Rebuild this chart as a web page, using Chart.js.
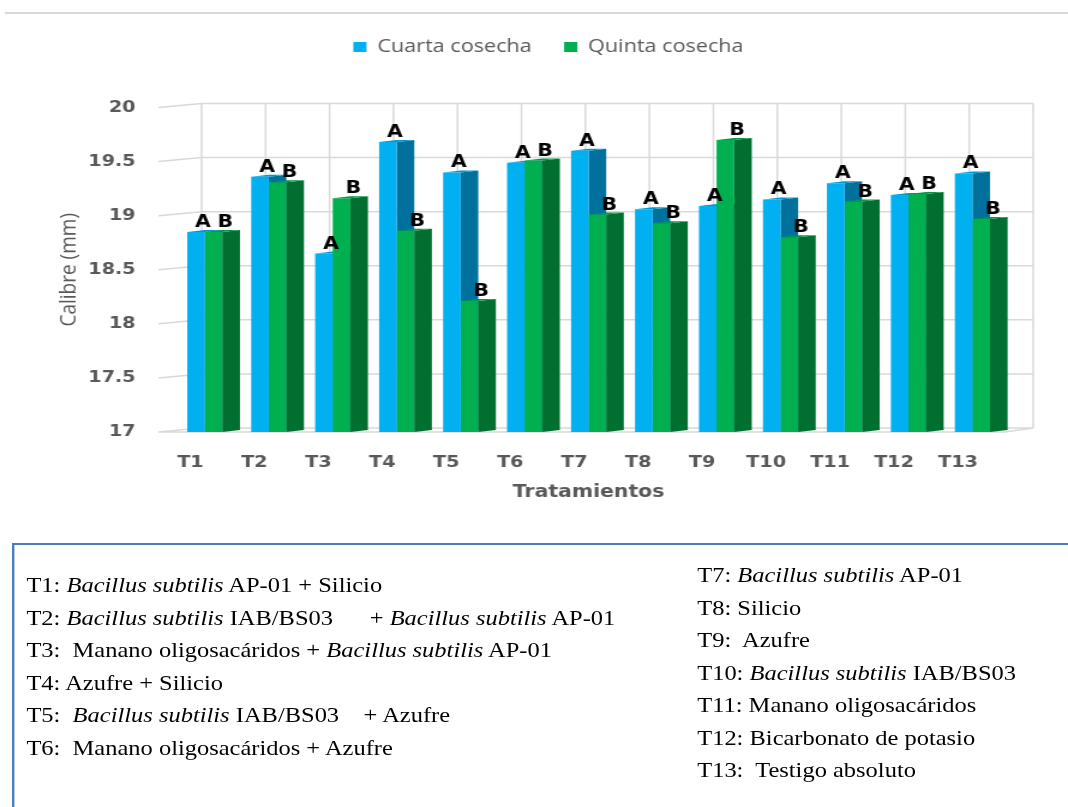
<!DOCTYPE html>
<html>
<head>
<meta charset="utf-8">
<script src="https://cdn.jsdelivr.net/npm/chart.js@4.4.1/dist/chart.umd.min.js"></script>
<style>
  html, body { margin: 0; padding: 0; background: #fff; overflow: hidden; }
  #page { position: relative; width: 890px; height: 807px; transform: scaleX(1.2); transform-origin: 0 0; }
  #topline { position: absolute; left: 4px; top: 12px; width: 900px; height: 2px; background: #d9d9d9; }
  #chart-wrap { position: absolute; left: 0; top: 0; }
  #chart-wrap canvas { display: block; }
  #caja { position: absolute; left: 10px; top: 543px; width: 900px; height: 320px; border: 2px solid #4a7ebb; box-sizing: border-box; }
  .col { position: absolute; font-family: "Liberation Serif", "Times New Roman", serif; font-size: 20.4px; line-height: 32.5px; color: #000; white-space: pre; }
  #izq { left: 22px; top: 569px; }
  #der { left: 581px; top: 559px; }
</style>
</head>
<body>
<div id="page">
  <div id="topline"></div>
  <div id="chart-wrap"><canvas id="grafico" width="914" height="503"></canvas></div>
  <div id="caja"></div>
  <div class="col" id="izq"><div>T1: <i>Bacillus subtilis</i> AP-01 + Silicio</div><div>T2: <i>Bacillus subtilis</i> IAB/BS03      + <i>Bacillus subtilis</i> AP-01</div><div>T3:  Manano oligosacáridos + <i>Bacillus subtilis</i> AP-01</div><div>T4: Azufre + Silicio</div><div>T5:  <i>Bacillus subtilis</i> IAB/BS03    + Azufre</div><div>T6:  Manano oligosacáridos + Azufre</div></div>
  <div class="col" id="der"><div>T7: <i>Bacillus subtilis</i> AP-01</div><div>T8: Silicio</div><div>T9:  Azufre</div><div>T10: <i>Bacillus subtilis</i> IAB/BS03</div><div>T11: Manano oligosacáridos</div><div>T12: Bicarbonato de potasio</div><div>T13:  Testigo absoluto</div></div>
</div>
<script>
const tratamientos = ['T1', 'T2', 'T3', 'T4', 'T5', 'T6', 'T7', 'T8', 'T9', 'T10', 'T11', 'T12', 'T13'];
const cuartaCosecha = [18.85, 19.36, 18.65, 19.68, 19.40, 19.49, 19.60, 19.06, 19.09, 19.15, 19.30, 19.19, 19.39];
const quintaCosecha = [18.85, 19.31, 19.16, 18.86, 18.21, 19.51, 19.01, 18.93, 19.70, 18.80, 19.13, 19.20, 18.97];
const letrasCuarta = ['A', 'A', 'A', 'A', 'A', 'A', 'A', 'A', 'A', 'A', 'A', 'A', 'A'];
const letrasQuinta = ['B', 'B', 'B', 'B', 'B', 'B', 'B', 'B', 'B', 'B', 'B', 'B', 'B'];
const ticksCalibre = [17, 17.5, 18, 18.5, 19, 19.5, 20];

const gris = '#595959';
const ladoColores = ['#00719c', '#006f30'];
const techoColores = ['#0098cf', '#00994a'];

// pushes the plot area down below the legend
const espacioLeyenda = {
    id: 'espacioLeyenda',
    beforeInit(chart) {
        const fitOriginal = chart.legend.fit;
        chart.legend.fit = function fit() {
            fitOriginal.bind(chart.legend)();
            this.height += 41.5;
        };
    }
};

function carasBarras(ctx, meta, i) {
    ctx.save();
    meta.data.forEach(bar => {
        const w = bar.width;
        const r = bar.x + w / 2;
        const l = bar.x - w / 2;
        const d = w, dd = 2;
        ctx.fillStyle = ladoColores[i];
        ctx.beginPath();
        ctx.moveTo(r, bar.y);
        ctx.lineTo(r + d, bar.y - dd);
        ctx.lineTo(r + d, bar.base - dd);
        ctx.lineTo(r, bar.base);
        ctx.closePath();
        ctx.fill();
        ctx.fillStyle = techoColores[i];
        ctx.beginPath();
        ctx.moveTo(l, bar.y);
        ctx.lineTo(r, bar.y);
        ctx.lineTo(r + d, bar.y - dd);
        ctx.lineTo(l + d, bar.y - dd);
        ctx.closePath();
        ctx.fill();
    });
    ctx.restore();
}

// back wall grid with a small perspective shift, then the hidden faces of the blue bars
const paredFondo = {
    id: 'paredFondo',
    beforeDatasetsDraw(chart) {
        const {ctx, chartArea, scales: {x, y}} = chart;
        const dx = 24, dy = -4;
        const cw = x.getPixelForValue(1) - x.getPixelForValue(0);
        ctx.save();
        ctx.strokeStyle = '#d9d9d9';
        ctx.lineWidth = 1.5;
        ctx.beginPath();
        ticksCalibre.forEach(v => {
            const py = y.getPixelForValue(v);
            ctx.moveTo(chartArea.left - 12, py);
            ctx.lineTo(chartArea.left + dx, py + dy);
            ctx.lineTo(chartArea.right + dx, py + dy);
        });
        for (let i = 0; i <= tratamientos.length; i++) {
            const px = x.getPixelForValue(0) - cw / 2 + i * cw + dx;
            ctx.moveTo(px, y.getPixelForValue(20) + dy);
            ctx.lineTo(px, y.getPixelForValue(17) + dy);
        }
        const base = y.getPixelForValue(17);
        ctx.moveTo(chartArea.left - 12, base);
        ctx.lineTo(chartArea.right, base);
        ctx.lineTo(chartArea.right + dx, base + dy);
        ctx.stroke();
        ctx.restore();
        carasBarras(ctx, chart.getDatasetMeta(0), 0);
    }
};

// green faces and the significance letters
const letras = {
    id: 'letras',
    afterDatasetsDraw(chart) {
        const {ctx} = chart;
        carasBarras(ctx, chart.getDatasetMeta(1), 1);
        ctx.save();
        ctx.font = 'bold 17px "DejaVu Sans"';
        ctx.fillStyle = '#000';
        ctx.textAlign = 'center';
        ctx.textBaseline = 'alphabetic';
        chart.getDatasetMeta(0).data.forEach((bar, k) => {
            ctx.fillText(letrasCuarta[k], bar.x + bar.width / 2 - 1.5, bar.y - 5);
        });
        chart.getDatasetMeta(1).data.forEach((bar, k) => {
            ctx.fillText(letrasQuinta[k], bar.x + bar.width / 2 + 2.5, bar.y - 5);
        });
        ctx.restore();
    }
};

const ctx = document.getElementById('grafico');

new Chart(ctx, {
    type: 'bar',
    data: {
        labels: tratamientos,
        datasets: [{
            label: 'Cuarta cosecha',
            data: cuartaCosecha,
            backgroundColor: '#00b0f0',
            base: 17,
            borderWidth: 0,
            categoryPercentage: 0.55,
            barPercentage: 1.0
        }, {
            label: 'Quinta cosecha',
            data: quintaCosecha,
            backgroundColor: '#00b050',
            base: 17,
            borderWidth: 0,
            categoryPercentage: 0.55,
            barPercentage: 1.0
        }]
    },
    options: {
        responsive: false,
        animation: false,
        layout: { padding: { top: 11, left: 0, right: 0, bottom: 0 } },
        plugins: {
            legend: {
                position: 'top',
                labels: {
                    font: { family: 'Open Sans', size: 18 },
                    color: gris,
                    boxWidth: 11,
                    boxHeight: 10,
                    padding: 27
                }
            },
            tooltip: { enabled: false }
        },
        scales: {
            x: {
                afterFit(scale) {
                    scale.height = 71;
                },
                grid: { display: false, drawTicks: false },
                border: { display: false },
                ticks: {
                    font: { family: 'DejaVu Sans', size: 16, weight: 'bold' },
                    color: gris,
                    padding: 21,
                    labelOffset: -12,
                    maxRotation: 0,
                    autoSkip: false
                },
                title: {
                    display: true,
                    text: 'Tratamientos',
                    font: { family: 'DejaVu Sans', size: 17, weight: 'bold' },
                    color: gris,
                    padding: { top: 0, bottom: 0 }
                }
            },
            y: {
                min: 17,
                max: 20,
                afterBuildTicks(scale) {
                    scale.ticks = ticksCalibre.map(v => ({ value: v }));
                },
                afterFit(scale) {
                    scale.width = 144;
                },
                grid: { display: false, drawTicks: false },
                border: { display: false },
                ticks: {
                    font: { family: 'DejaVu Sans', size: 16, weight: 'bold' },
                    color: gris,
                    padding: 31,
                    callback: value => String(value)
                },
                title: {
                    display: true,
                    text: 'Calibre (mm)',
                    font: { family: 'Open Sans', size: 19 },
                    color: gris,
                    padding: { top: 46, bottom: 0 }
                }
            },
            derecha: {
                type: 'linear',
                position: 'right',
                grid: { display: false, drawTicks: false },
                border: { display: false },
                ticks: { display: false },
                afterFit(scale) {
                    scale.width = 77;
                }
            }
        }
    },
    plugins: [espacioLeyenda, paredFondo, letras]
});
</script>
</body>
</html>
